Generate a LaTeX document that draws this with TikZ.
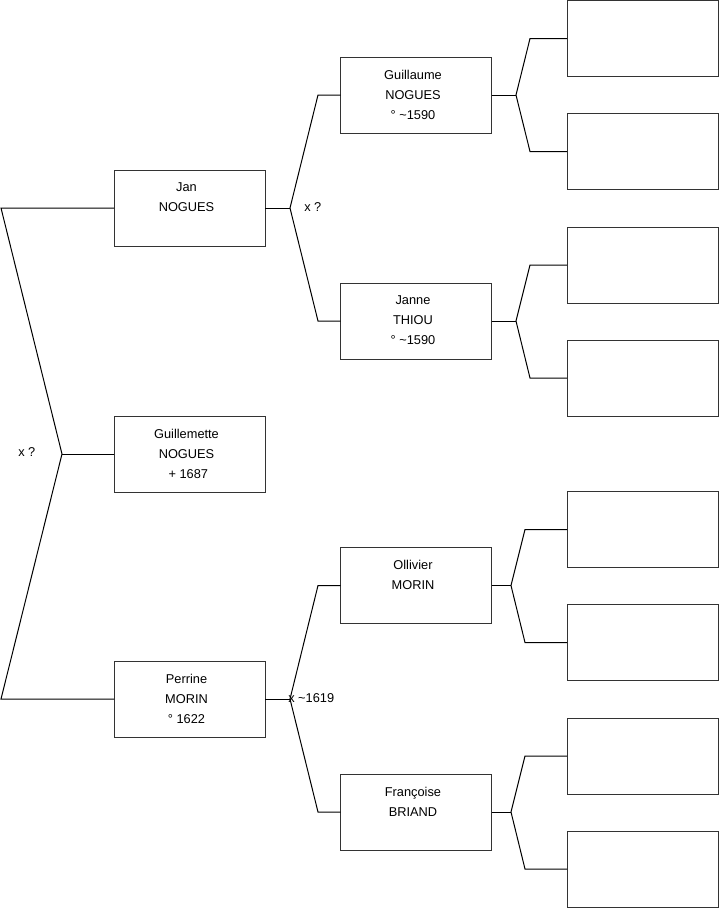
\documentclass[tikz,border=0pt]{standalone}
\usepackage{fontspec}
\setmainfont{Liberation Sans}
\begin{document}
\begin{tikzpicture}[x=0.75pt,y=-0.75pt,
  person/.style={draw=black!80,line width=0.75pt,rectangle,inner sep=0pt,outer sep=0pt,
    minimum width=113.25pt,minimum height=57pt},
  empty/.style={draw=black!80,line width=0.75pt,rectangle,inner sep=0pt,outer sep=0pt,
    minimum width=113.25pt,minimum height=57pt},
  txt/.style={inner sep=0pt,align=center,anchor=north,font=\fontsize{9.6}{15}\selectfont},
  lbl/.style={inner sep=0pt,anchor=west,font=\fontsize{9.6}{15}\selectfont},
  link/.style={draw=black,line width=0.75pt}]
\useasboundingbox (0,0) rectangle (719,908);
% generation 2
\node[person] (jan) at (189.5,208) {};
\node[person] (guille) at (189.5,454) {};
\node[person] (perrine) at (189.5,699) {};
% generation 3
\node[person] (guillaume) at (416,95) {};
\node[person] (janne) at (416,321) {};
\node[person] (ollivier) at (416,585.5) {};
\node[person] (francoise) at (416,812) {};
% generation 4
\node[empty] (g1) at (642.5,38.5) {};
\node[empty] (g2) at (642.5,151.5) {};
\node[empty] (j1) at (642.5,265) {};
\node[empty] (j2) at (642.5,378) {};
\node[empty] (o1) at (642.5,529.5) {};
\node[empty] (o2) at (642.5,642.5) {};
\node[empty] (f1) at (642.5,756) {};
\node[empty] (f2) at (642.5,869) {};
% texts
\node[txt] (tjan) at ([xshift=-2.25pt,yshift=-9.6pt]jan.north) {Jan\\NOGUES};
\node[txt] (tguille) at ([xshift=-2.25pt,yshift=-9.6pt]guille.north) {Guillemette\\NOGUES\\\ + 1687};
\node[txt] (tperrine) at ([xshift=-2.25pt,yshift=-9.6pt]perrine.north) {Perrine\\MORIN\\° 1622};
\node[txt] (tguillaume) at ([xshift=-2.25pt,yshift=-9.6pt]guillaume.north) {Guillaume\\NOGUES\\° \textasciitilde1590};
\node[txt] (tjanne) at ([xshift=-2.25pt,yshift=-9.6pt]janne.north) {Janne\\THIOU\\° \textasciitilde1590};
\node[txt] (tollivier) at ([xshift=-2.25pt,yshift=-9.6pt]ollivier.north) {Ollivier\\MORIN};
\node[txt] (tfrancoise) at ([xshift=-2.25pt,yshift=-9.6pt]francoise.north) {Françoise\\BRIAND};
% left bracket
\coordinate (lt) at (1,208);
\coordinate (lv) at (62,454);
\coordinate (lb) at (1,699);
\draw[link] (jan.west) -- (lt) -- (lv) -- (lb) -- (perrine.west);
\draw[link] (lv) -- (guille.west);
\node[lbl] (x1) at (18,452) {x ?};
% Jan parents
\coordinate (v1) at (290,208);
\coordinate (v1a) at (318,95);
\coordinate (v1b) at (318,321);
\draw[link] (jan.east) -- (v1);
\draw[link] (guillaume.west) -- (v1a) -- (v1) -- (v1b) -- (janne.west);
\node[lbl] (x2) at (304,207) {x ?};
% Perrine parents
\coordinate (v2) at (290,699);
\coordinate (v2a) at (318,585.5);
\coordinate (v2b) at (318,812);
\draw[link] (perrine.east) -- (v2);
\draw[link] (ollivier.west) -- (v2a) -- (v2) -- (v2b) -- (francoise.west);
\node[lbl] (x3) at (288,698) {x \textasciitilde1619};
% Guillaume parents
\coordinate (v3) at (516,95);
\draw[link] (guillaume.east) -- (v3);
\draw[link] (g1.west) -- (530,38.5) -- (v3) -- (530,151.5) -- (g2.west);
% Janne parents
\coordinate (v4) at (516,321);
\draw[link] (janne.east) -- (v4);
\draw[link] (j1.west) -- (530,265) -- (v4) -- (530,378) -- (j2.west);
% Ollivier parents
\coordinate (v5) at (511,585.5);
\draw[link] (ollivier.east) -- (v5);
\draw[link] (o1.west) -- (525,529.5) -- (v5) -- (525,642.5) -- (o2.west);
% Francoise parents
\coordinate (v6) at (511,812);
\draw[link] (francoise.east) -- (v6);
\draw[link] (f1.west) -- (525,756) -- (v6) -- (525,869) -- (f2.west);
\end{tikzpicture}
\end{document}
